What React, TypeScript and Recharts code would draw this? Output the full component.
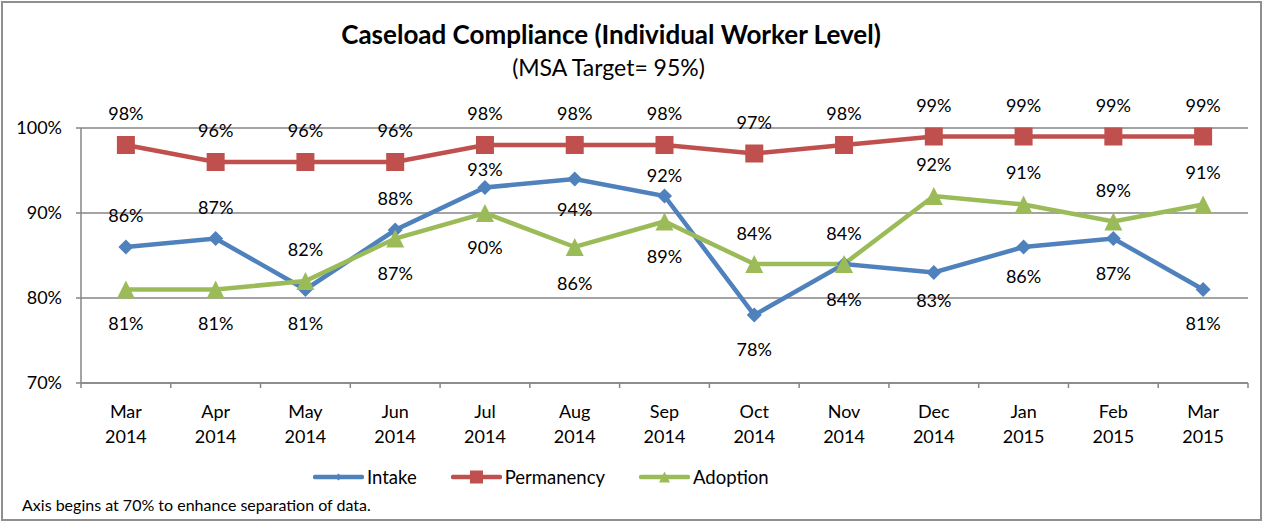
import React from 'react';
import { LineChart, Line, XAxis, YAxis, CartesianGrid, Legend } from 'recharts';

const months = ['Mar', 'Apr', 'May', 'Jun', 'Jul', 'Aug', 'Sep', 'Oct', 'Nov', 'Dec', 'Jan', 'Feb', 'Mar'];
const years = ['2014', '2014', '2014', '2014', '2014', '2014', '2014', '2014', '2014', '2014', '2015', '2015', '2015'];
const intake = [86, 87, 81, 88, 93, 94, 92, 78, 84, 83, 86, 87, 81];
const permanency = [98, 96, 96, 96, 98, 98, 98, 97, 98, 99, 99, 99, 99];
const adoption = [81, 81, 82, 87, 90, 86, 89, 84, 84, 92, 91, 89, 91];
const yTicks = [70, 80, 90, 100];

// label offsets (px) as they were placed in the original
const intakeLabelDy = [-32, -32, 33, -32, -19, 30, -21, 34, 35, 27, 29, 34, 33];
const permanencyLabelDy = [-32, -32, -32, -32, -32, -32, -32, -32, -32, -32, -32, -32, -32];
const adoptionLabelDy = [33, 33, -32, 34, 34, 36, 34, -31, -31, -32, -33, -32, -33];

const data = months.map((m, i) => ({
  label: m + ' ' + years[i],
  month: m,
  year: years[i],
  intake: intake[i],
  permanency: permanency[i],
  adoption: adoption[i],
}));

const FONT = "Lato, 'Open Sans', sans-serif";
const BLUE = '#4F81BD';
const RED = '#C0504D';
const GREEN = '#9BBB59';
const AXIS = '#868686';
const W = 1263, H = 522;
const PLOT_W = 1167;
const BAND = PLOT_W / months.length;

function XTick(props: any) {
  const { x, y, payload, index } = props;
  const [m, yr] = String(payload.value).split(' ');
  return (
    <g>
      <line x1={x - BAND / 2} x2={x - BAND / 2} y1={y} y2={y + 5} stroke={AXIS} strokeWidth={1.5} />
      {index === months.length - 1 && (
        <line x1={x + BAND / 2} x2={x + BAND / 2} y1={y} y2={y + 5} stroke={AXIS} strokeWidth={1.5} />
      )}
      <text x={x} y={y + 28} textAnchor="middle" dominantBaseline="central" fontFamily={FONT} fontSize={18} fill="#000">{m}</text>
      <text x={x} y={y + 53} textAnchor="middle" dominantBaseline="central" fontFamily={FONT} fontSize={18} fill="#000">{yr}</text>
    </g>
  );
}

function makeLabel(dy: number[]) {
  return (p: any) => {
    const i = p.index ?? 0;
    return (
      <text key={'l' + i} x={p.x} y={p.y + dy[i]} textAnchor="middle" dominantBaseline="central" fontFamily={FONT} fontSize={18} fill="#000">
        {p.value}%
      </text>
    );
  };
}

function Diamond({ cx, cy, r, fill }: any) {
  return <polygon points={`${cx},${cy - r} ${cx + r},${cy} ${cx},${cy + r} ${cx - r},${cy}`} fill={fill} />;
}
function Square({ cx, cy, r, fill }: any) {
  return <rect x={cx - r} y={cy - r} width={2 * r} height={2 * r} fill={fill} />;
}
function Triangle({ cx, cy, r, fill }: any) {
  return <polygon points={`${cx},${cy - r} ${cx + r},${cy + r} ${cx - r},${cy + r}`} fill={fill} />;
}

const series = [
  { key: 'intake', name: 'Intake', color: BLUE, Shape: Diamond, r: 7.5, lr: 3.5, dy: intakeLabelDy },
  { key: 'permanency', name: 'Permanency', color: RED, Shape: Square, r: 9, lr: 6.5, dy: permanencyLabelDy },
  { key: 'adoption', name: 'Adoption', color: GREEN, Shape: Triangle, r: 9, lr: 5.5, dy: adoptionLabelDy },
];

function LegendContent() {
  return (
    <div style={{ display: 'flex', alignItems: 'center', gap: 34, fontFamily: FONT, fontSize: 18.5, color: '#000' }}>
      {series.map((s) => (
        <div key={s.key} style={{ display: 'flex', alignItems: 'center' }}>
          <svg width={51} height={20}>
            <line x1={2} x2={49} y1={10} y2={10} stroke={s.color} strokeWidth={4.5} strokeLinecap="round" />
            <s.Shape cx={25.5} cy={10} r={s.lr} fill={s.color} />
          </svg>
          <span style={{ marginLeft: 3 }}>{s.name}</span>
        </div>
      ))}
    </div>
  );
}

export default function App() {
  return (
    <div style={{ position: 'absolute', left: 0, top: 0, width: W, height: H, background: '#fff' }}>
      <div style={{ position: 'absolute', left: 1, top: 1, width: 1261, height: 520, boxSizing: 'border-box', border: '2px solid #8f8f8f' }} />
      <div style={{ position: 'absolute', left: 0, top: 18, width: 1222, textAlign: 'center', fontFamily: FONT, fontWeight: 700, fontSize: 26, lineHeight: '32px', color: '#000' }}>
        Caseload Compliance (Individual Worker Level)
      </div>
      <div style={{ position: 'absolute', left: 0, top: 53, width: 1217, textAlign: 'center', fontFamily: FONT, fontSize: 23, lineHeight: '28px', color: '#000' }}>
        (MSA Target= 95%)
      </div>
      <div style={{ position: 'absolute', left: 22, top: 495, fontFamily: FONT, fontSize: 16, lineHeight: '20px', color: '#000' }}>
        Axis begins at 70% to enhance separation of data.
      </div>
      <div style={{ position: 'absolute', left: 0, top: 0 }}>
        <LineChart width={W} height={H} data={data} margin={{ top: 128, right: 15, bottom: 79, left: 0 }}>
          <CartesianGrid vertical={false} stroke={AXIS} strokeWidth={1.5} />
          <XAxis
            dataKey="label"
            interval={0}
            height={60}
            padding={{ left: BAND / 2, right: BAND / 2 }}
            tickSize={0}
            tickMargin={0}
            tickLine={false}
            axisLine={{ stroke: AXIS, strokeWidth: 1.5 }}
            tick={<XTick />}
          />
          <YAxis
            width={81}
            domain={[70, 100]}
            ticks={yTicks}
            interval={0}
            tickFormatter={(v: number) => v + '%'}
            tickSize={5}
            tickMargin={14}
            tickLine={{ stroke: AXIS, strokeWidth: 1.5 }}
            axisLine={{ stroke: AXIS, strokeWidth: 1.5 }}
            tick={{ fill: '#000', fontFamily: FONT, fontSize: 18 }}
          />
          <Legend
            layout="horizontal"
            verticalAlign="middle"
            align="center"
            content={<LegendContent />}
            wrapperStyle={{ top: 466, left: 313, width: 'auto' }}
          />
          {series.map((s) => (
            <Line
              key={s.key}
              dataKey={s.key}
              name={s.name}
              stroke={s.color}
              strokeWidth={4.5}
              isAnimationActive={false}
              dot={(p: any) => <s.Shape key={s.key + p.index} cx={p.cx} cy={p.cy} r={s.r} fill={s.color} />}
              activeDot={false}
              label={makeLabel(s.dy)}
            />
          ))}
        </LineChart>
      </div>
    </div>
  );
}
